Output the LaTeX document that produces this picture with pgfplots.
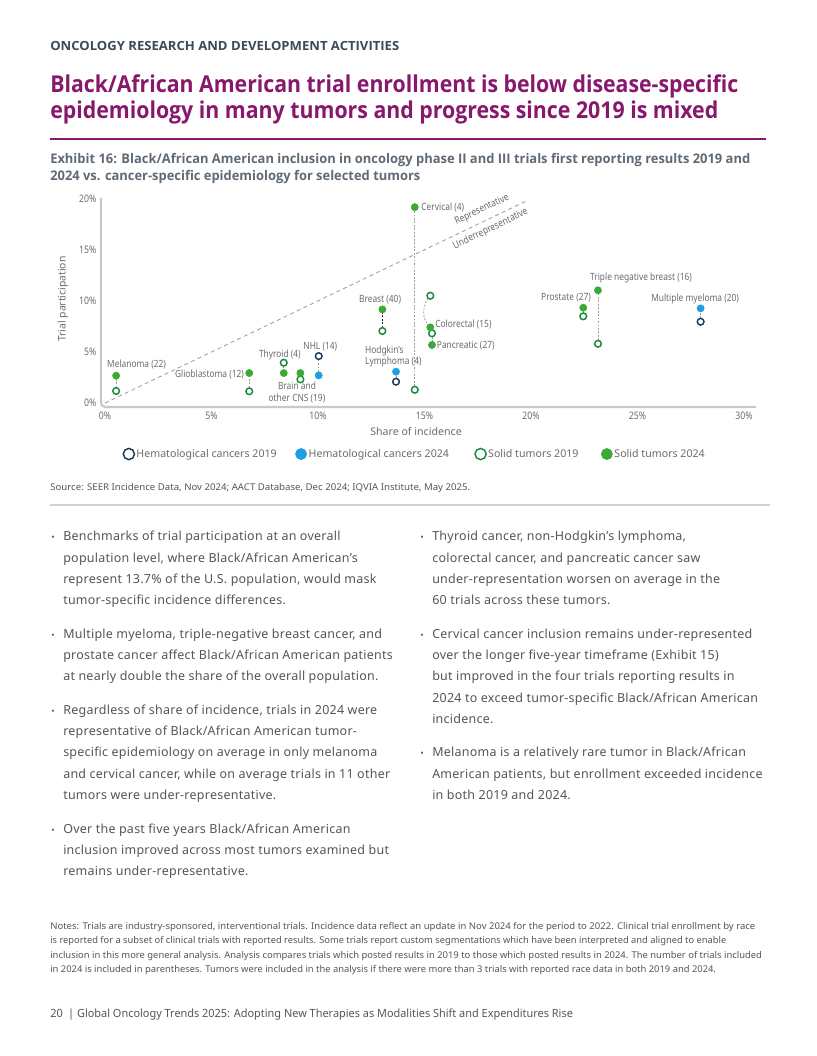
\documentclass[border=0pt]{standalone}
\usepackage{fontspec}
\setmainfont{Noto Sans}
\newfontfamily\cond[FakeStretch=0.84]{Noto Sans}
\newfontfamily\bodyf[LetterSpace=2]{Noto Sans}
\IfFontExistsTF{Noto Sans Bold}{\newfontfamily\bff{Noto Sans Bold}}{%
  \IfFontExistsTF{Open Sans Bold}{\newfontfamily\bff{Open Sans Bold}}{%
    \newfontfamily\bff[FakeBold=1.8]{Noto Sans}}}
\usepackage{graphicx}
\usepackage{pgfplots}
\pgfplotsset{compat=1.18}
\definecolor{hdr}{HTML}{3E4A57}
\definecolor{purp}{HTML}{88186C}
\definecolor{exh}{HTML}{5F6A74}
\definecolor{body}{HTML}{555555}
\definecolor{lab}{HTML}{6B6B6B}
\definecolor{axc}{HTML}{C9C9C9}
\definecolor{gfill}{HTML}{3AAA35}
\definecolor{gdark}{HTML}{1A8A3C}
\definecolor{bfill}{HTML}{1CA0DF}
\definecolor{navy}{HTML}{1B3A5E}
\newcommand\Lb[3]{\node[anchor=base west,inner sep=0pt,font=\bodyf\fontsize{9.4}{11}\selectfont,text=body] at (#1,-#2) {#3};}
\newcommand\Bu[2]{\node[anchor=base west,inner sep=0pt,font=\fontsize{9}{11}\selectfont,text=body] at (#1,-#2) {\scalebox{0.75}{•}};}
\newcommand\Nt[3]{\node[anchor=base west,inner sep=0pt,font=\fontsize{7}{8}\selectfont,text=body] at (50,-#1) {\resizebox{#2}{\height}{#3}};}
\begin{document}
\begin{tikzpicture}[x=0.75bp,y=0.75bp]
\path[use as bounding box] (0,0) rectangle (816,-1056);
% header
\node[anchor=base west,inner sep=0pt,font=\bff\fontsize{9.5}{11}\selectfont,text=hdr] at (50,-51) {\resizebox{261.75bp}{\height}{ONCOLOGY RESEARCH AND DEVELOPMENT ACTIVITIES}};
\node[anchor=base west,inner sep=0pt,font=\bff\fontsize{17.5}{19}\selectfont,text=purp] at (50,-92.5) {\resizebox{516bp}{\height}{Black/African American trial enrollment is below disease-specific}};
\node[anchor=base west,inner sep=0pt,font=\bff\fontsize{17.5}{19}\selectfont,text=purp] at (50,-118.5) {\resizebox{501bp}{\height}{epidemiology in many tumors and progress since 2019 is mixed}};
\draw[purp,line width=2bp] (50,-139) -- (766,-139);
\node[anchor=base west,inner sep=0pt,font=\bff\fontsize{10}{12}\selectfont,text=exh] at (50,-164) {\resizebox{525bp}{\height}{Exhibit 16: Black/African American inclusion in oncology phase II and III trials first reporting results 2019 and}};
\node[anchor=base west,inner sep=0pt,font=\bff\fontsize{10}{12}\selectfont,text=exh] at (50,-181) {\resizebox{277.5bp}{\height}{2024 vs. cancer-specific epidemiology for selected tumors}};
% axis labels
\node[font=\fontsize{8}{9}\selectfont,text=lab] at (416,-431) {Share of incidence};
\node[font=\fontsize{7.8}{9}\selectfont,text=lab,rotate=90] at (63,-299) {Trial participation};
\begin{axis}[
  at={(75.75bp,-305.25bp)}, anchor=south west,
  scale only axis, width=491.25bp, height=156.75bp,
  xmin=-0.19, xmax=30.56, ymin=-0.39, ymax=20.1,
  axis line style={draw=none},
  major tick length=0pt,
  xtick={0,5,10,15,20,25,30},
  xticklabels={0\%,5\%,10\%,15\%,20\%,25\%,30\%},
  ytick={0,5,10,15,20},
  yticklabels={0\%,5\%,10\%,15\%,20\%},
  tick label style={font=\cond\fontsize{7.8}{9}\selectfont,text=lab},
  clip=false,
  legend columns=4,
  legend style={at={(0.0336,-0.225)},anchor=west,draw=none,fill=none,inner sep=0pt,
    font=\fontsize{8}{9.6}\selectfont,text=lab,
    /tikz/column 2/.style={column sep=12.5bp},
    /tikz/column 4/.style={column sep=18bp},
    /tikz/column 6/.style={column sep=15.5bp},
    nodes={inner sep=1.5bp}},
  legend image code/.code={\draw[#1] plot coordinates {(0bp,0bp)};},
  conn/.style={draw=gray!75,dash pattern=on 1.4bp off 1.2bp,line width=0.6bp,forget plot},
  s19/.style={only marks,mark=*,mark size=2.5bp,draw=gdark,fill=white,line width=1.1bp,forget plot},
  s24/.style={only marks,mark=*,mark size=2.7bp,draw=gfill,fill=gfill,forget plot},
  h19/.style={only marks,mark=*,mark size=2.5bp,draw=navy,fill=white,line width=1.1bp,forget plot},
  h24/.style={only marks,mark=*,mark size=2.7bp,draw=bfill,fill=bfill,forget plot},
]
\draw[axc,line width=1.6bp,rounded corners=3bp] (rel axis cs:0,1) -- (rel axis cs:0,0) -- (rel axis cs:1,0);
% representative line
\addplot[forget plot,draw=gray!80,dash pattern=on 3bp off 2.5bp,line width=0.6bp] coordinates {(0,0) (19.87,19.9)};
\node[rotate=25.6,font=\cond\fontsize{7.5}{9}\selectfont,text=lab] at (axis cs:17.7,18.95) {Representative};
\node[rotate=25.6,font=\cond\fontsize{7.5}{9}\selectfont,text=lab] at (axis cs:18.1,17.05) {Underrepresentative};
% connectors
\addplot[conn] coordinates {(0.52,1.18) (0.52,2.68)};
\addplot[conn] coordinates {(6.77,1.15) (6.77,2.94)};
\addplot[conn] coordinates {(8.39,3.95) (8.39,2.94)};
\addplot[conn] coordinates {(9.17,2.32) (9.17,2.94)};
\addplot[conn] coordinates {(10.03,4.6) (10.03,2.71)};
\addplot[conn,draw=black!85] coordinates {(13.02,7.06) (13.02,9.18)};
\addplot[conn] coordinates {(13.66,2.09) (13.66,3.07)};
\addplot[conn] coordinates {(14.54,1.3) (14.54,19.2)};
\draw[draw=gray!75,dash pattern=on 1.4bp off 1.2bp,line width=0.6bp] (axis cs:15.27,10.52) .. controls (axis cs:14.85,9.6) and (axis cs:14.85,8.2) .. (axis cs:15.27,7.42);
\addplot[conn] coordinates {(15.35,6.83) (15.35,5.69)};
\addplot[conn] coordinates {(22.45,8.5) (22.45,9.34)};
\addplot[conn] coordinates {(23.14,5.81) (23.14,11.05)};
\addplot[conn] coordinates {(27.96,7.97) (27.96,9.28)};
% data
\addplot[s19] coordinates {(0.52,1.18) (6.77,1.15) (8.39,3.95) (9.17,2.32) (13.02,7.06) (14.54,1.3) (15.27,10.52) (15.35,6.83) (22.45,8.5) (23.14,5.81)};
\addplot[s24] coordinates {(0.52,2.68) (6.77,2.94) (8.39,2.94) (9.17,2.94) (13.02,9.18) (14.54,19.2) (15.27,7.42) (15.35,5.69) (22.45,9.34) (23.14,11.05)};
\addplot[h19] coordinates {(10.03,4.6) (13.66,2.09) (27.96,7.97)};
\addplot[h24] coordinates {(10.03,2.71) (13.66,3.07) (27.96,9.28)};
% labels
\begin{scope}[every node/.style={font=\cond\fontsize{7.5}{9}\selectfont,text=lab,inner sep=0pt}]
\node[anchor=west] at (axis cs:0.09,3.73) {Melanoma (22)};
\node[anchor=east] at (axis cs:6.53,2.84) {Glioblastoma (12)};
\node[anchor=east] at (axis cs:9.2,4.7) {Thyroid (4)};
\node[anchor=west] at (axis cs:9.3,5.5) {NHL (14)};
\node[align=center,font=\cond\fontsize{7.5}{8.7}\selectfont] at (axis cs:9.01,1.03) {Brain and\\other CNS (19)};
\node at (axis cs:12.91,10.1) {Breast (40)};
\node[anchor=west,align=left,font=\cond\fontsize{7.5}{8.3}\selectfont] at (axis cs:12.2,4.56) {Hodgkin’s\\Lymphoma (4)};
\node[anchor=west] at (axis cs:14.84,19.2) {Cervical (4)};
\node[anchor=west] at (axis cs:15.49,7.72) {Colorectal (15)};
\node[anchor=west] at (axis cs:15.57,5.59) {Pancreatic (27)};
\node[anchor=east] at (axis cs:22.82,10.36) {Prostate (27)};
\node at (axis cs:25.16,12.23) {Triple negative breast (16)};
\node at (axis cs:27.7,10.17) {Multiple myeloma (20)};
\end{scope}
% legend
\addlegendimage{only marks,mark=*,mark size=4.2bp,draw=navy,fill=white,line width=1.1bp}
\addlegendentry{Hematological cancers 2019}
\addlegendimage{only marks,mark=*,mark size=4.2bp,draw=bfill,fill=bfill}
\addlegendentry{Hematological cancers 2024}
\addlegendimage{only marks,mark=*,mark size=4.2bp,draw=gdark,fill=white,line width=1.1bp}
\addlegendentry{Solid tumors 2019}
\addlegendimage{only marks,mark=*,mark size=4.2bp,draw=gfill,fill=gfill}
\addlegendentry{Solid tumors 2024}
\end{axis}
% source
\node[anchor=base west,inner sep=0pt,font=\fontsize{7}{8}\selectfont,text=body] at (50,-490) {\resizebox{315bp}{\height}{Source: SEER Incidence Data, Nov 2024; AACT Database, Dec 2024; IQVIA Institute, May 2025.}};
\draw[black!18,line width=1.5bp] (50,-505) -- (770,-505);
% left bullets
\Bu{51}{540}\Lb{63}{540}{Benchmarks of trial participation at an overall}
\Lb{63}{562}{population level, where Black/African American’s}
\Lb{63}{583}{represent 13.7\% of the U.S. population, would mask}
\Lb{63}{604}{tumor-specific incidence differences.}
\Bu{51}{638}\Lb{63}{638}{Multiple myeloma, triple-negative breast cancer, and}
\Lb{63}{659}{prostate cancer affect Black/African American patients}
\Lb{63}{680}{at nearly double the share of the overall population.}
\Bu{51}{714}\Lb{63}{714}{Regardless of share of incidence, trials in 2024 were}
\Lb{63}{735}{representative of Black/African American tumor-}
\Lb{63}{756}{specific epidemiology on average in only melanoma}
\Lb{63}{778}{and cervical cancer, while on average trials in 11 other}
\Lb{63}{799}{tumors were under-representative.}
\Bu{51}{833}\Lb{63}{833}{Over the past five years Black/African American}
\Lb{63}{854}{inclusion improved across most tumors examined but}
\Lb{63}{875}{remains under-representative.}
% right bullets
\Bu{420}{540}\Lb{432}{540}{Thyroid cancer, non-Hodgkin’s lymphoma,}
\Lb{432}{562}{colorectal cancer, and pancreatic cancer saw}
\Lb{432}{583}{under-representation worsen on average in the}
\Lb{432}{604}{60 trials across these tumors.}
\Bu{420}{638}\Lb{432}{638}{Cervical cancer inclusion remains under-represented}
\Lb{432}{659}{over the longer five-year timeframe (Exhibit 15)}
\Lb{432}{680}{but improved in the four trials reporting results in}
\Lb{432}{702}{2024 to exceed tumor-specific Black/African American}
\Lb{432}{723}{incidence.}
\Bu{420}{756}\Lb{432}{756}{Melanoma is a relatively rare tumor in Black/African}
\Lb{432}{778}{American patients, but enrollment exceeded incidence}
\Lb{432}{799}{in both 2019 and 2024.}
% notes
\Nt{929}{528.75bp}{Notes: Trials are industry-sponsored, interventional trials. Incidence data reflect an update in Nov 2024 for the period to 2022. Clinical trial enrollment by race}
\Nt{943.5}{507bp}{is reported for a subset of clinical trials with reported results. Some trials report custom segmentations which have been interpreted and aligned to enable}
\Nt{958}{533.8bp}{inclusion in this more general analysis. Analysis compares trials which posted results in 2019 to those which posted results in 2024. The number of trials included}
\Nt{972.5}{499.3bp}{in 2024 is included in parentheses. Tumors were included in the analysis if there were more than 3 trials with reported race data in both 2019 and 2024.}
% footer
\node[anchor=base west,inner sep=0pt,font=\fontsize{8.5}{10}\selectfont,text=body] at (50,-1017) {\resizebox{392bp}{\height}{20\enspace| Global Oncology Trends 2025: Adopting New Therapies as Modalities Shift and Expenditures Rise}};
\end{tikzpicture}
\end{document}
